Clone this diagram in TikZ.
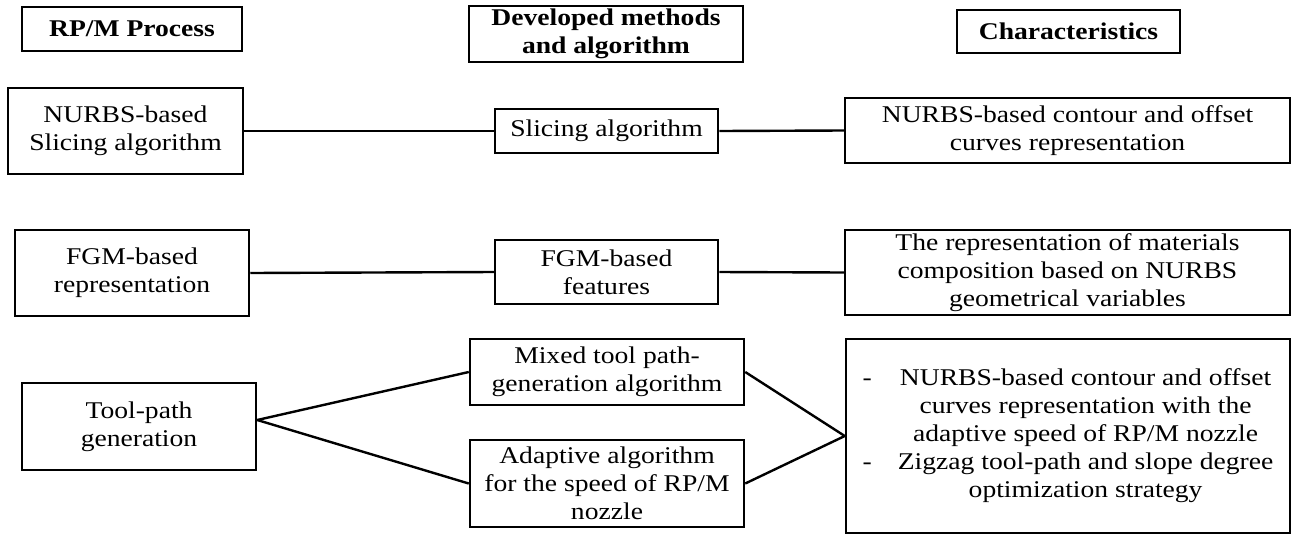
\documentclass[tikz,border=0pt]{standalone}
\usepackage{fontspec}
\setmainfont{Liberation Serif}[FakeStretch=1.15]
\begin{document}
\begin{tikzpicture}[x=1pt,y=-1pt,
  box/.style={draw, line width=2.5pt, align=center, inner sep=0pt,
    font=\fontsize{24}{28}\selectfont},
  hdr/.style={box, font=\fontsize{24}{28}\selectfont\bfseries},
  link/.style={line width=2.4pt}]
\useasboundingbox (0,0) rectangle (1292,536);

% column headers
\node[hdr, minimum width=220pt, minimum height=44pt] (hproc) at (132,29) {RP/M Process};
\node[hdr, minimum width=274pt, minimum height=56pt] (hmeth) at (606,34) {Developed methods\\and algorithm};
\node[hdr, minimum width=223pt, minimum height=43pt] (hchar) at (1068.5,31.5) {Characteristics};

% row 1: slicing
\node[box, minimum width=235pt, minimum height=86pt] (a1) at (125.5,131) {NURBS-based\\Slicing algorithm};
\node[box, minimum width=223pt, minimum height=44pt] (b1) at (606.5,131) {Slicing algorithm};
\node[box, minimum width=445pt, minimum height=65pt] (c1) at (1067.5,130.5) {NURBS-based contour and offset\\curves representation};

% row 2: FGM
\node[box, minimum width=234pt, minimum height=86pt] (a2) at (132,273) {FGM-based\\representation};
\node[box, minimum width=223pt, minimum height=64pt] (b2) at (606.5,272) {FGM-based\\features};
\node[box, minimum width=445pt, minimum height=85pt] (c2) at (1067.5,272.5) {The representation of materials\\composition based on NURBS\\geometrical variables};

% row 3: tool path
\node[box, minimum width=234pt, minimum height=87pt] (a3) at (139,426.5) {Tool-path\\generation};
\node[box, minimum width=274pt, minimum height=66pt] (b3) at (607,372) {Mixed tool path-\\generation algorithm};
\node[box, minimum width=274pt, minimum height=87pt] (b4) at (607,483.5) {Adaptive algorithm\\for the speed of RP/M\\nozzle};
\node[box, minimum width=444pt, minimum height=194pt] (c3) at (1068,436)
  {\begin{tabular}{@{}l@{\hspace{26pt}}c@{}}
   - & NURBS-based contour and offset\\
     & curves representation with the\\
     & adaptive speed of RP/M nozzle\\
   - & Zigzag tool-path and slope degree\\
     & optimization strategy
   \end{tabular}};

% connectors
\draw[link] (a1.east) -- (b1.west);
\draw[link] (b1.east) -- (c1.west);
\draw[link] (a2.east) -- (b2.west);
\draw[link] (b2.east) -- (c2.west);
\draw[link] ([yshift=6.5pt]a3.east) -- (b3.west);
\draw[link] ([yshift=6.5pt]a3.east) -- (b4.west);
\draw[link] (b3.east) -- (c3.west);
\draw[link] (b4.east) -- (c3.west);
\end{tikzpicture}
\end{document}
